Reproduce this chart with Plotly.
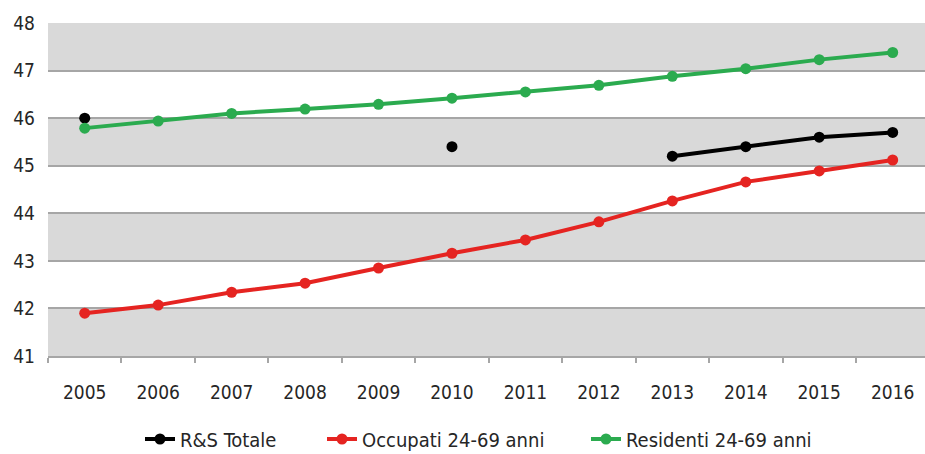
import plotly.graph_objects as go

years = ["2005", "2006", "2007", "2008", "2009", "2010",
         "2011", "2012", "2013", "2014", "2015", "2016"]

rs_totale = [46.0, None, None, None, None, 45.4,
             None, None, 45.2, 45.4, 45.6, 45.7]
occupati = [41.9, 42.07, 42.34, 42.53, 42.85, 43.16,
            43.44, 43.82, 44.26, 44.66, 44.89, 45.12]
residenti = [45.79, 45.94, 46.1, 46.19, 46.29, 46.42,
             46.55, 46.69, 46.88, 47.04, 47.23, 47.38]

y_ticks = [41, 42, 43, 44, 45, 46, 47, 48]

FONT = "DejaVu Sans Condensed, Liberation Sans Narrow, sans-serif"
TEXT = "#262626"
GRID = "#a6a6a6"
BAND = "#d9d9d9"

# name, values, colour, legend id, legend left edge (px)
series = [
    ("R&S Totale", rs_totale, "#000000", "legend", 140),
    ("Occupati 24-69 anni", occupati, "#e52421", "legend2", 322),
    ("Residenti 24-69 anni", residenti, "#2bab4f", "legend3", 586),
]

W, H = 925, 454

fig = go.Figure()
legends = {}
for name, vals, color, leg, left in series:
    fig.add_trace(go.Scatter(
        x=years, y=vals, name=name,
        mode="lines+markers",
        line=dict(color=color, width=4),
        marker=dict(color=color, size=11),
        connectgaps=False,
        legend=leg,
    ))
    legends[leg] = dict(
        orientation="h", xref="container", yref="container",
        x=left / W, xanchor="left",
        y=1 - 439 / H, yanchor="middle",
        font=dict(family=FONT, size=20, color=TEXT),
        bgcolor="rgba(0,0,0,0)", borderwidth=0,
        tracegroupgap=0,
    )

# alternating grey bands between the unit gridlines
for lo in y_ticks[:-1:2]:
    fig.add_shape(type="rect", xref="paper", yref="y",
                  x0=0, x1=1, y0=lo, y1=lo + 1,
                  fillcolor=BAND, line_width=0, layer="below")

fig.update_layout(
    width=W, height=H,
    margin=dict(l=48, r=0, t=23, b=98, autoexpand=False),
    paper_bgcolor="white",
    plot_bgcolor="white",
    font=dict(family=FONT, size=19, color=TEXT),
    showlegend=True,
    **legends,
    xaxis=dict(
        type="category",
        range=[-0.5, 11.44],
        tickson="boundaries",
        ticks="outside", ticklen=5, tickwidth=2, tickcolor=GRID,
        showline=True, linecolor=GRID, linewidth=2,
        showgrid=False, zeroline=False,
        tickfont=dict(family=FONT, size=19, color=TEXT),
        ticklabelstandoff=18,
    ),
    yaxis=dict(
        range=[41, 48],
        tickvals=y_ticks,
        showgrid=True, gridcolor=GRID, gridwidth=2,
        zeroline=False, showline=False, ticks="",
        tickfont=dict(family=FONT, size=19, color=TEXT),
        ticklabelstandoff=12,
    ),
)

fig.write_html("out.html")
